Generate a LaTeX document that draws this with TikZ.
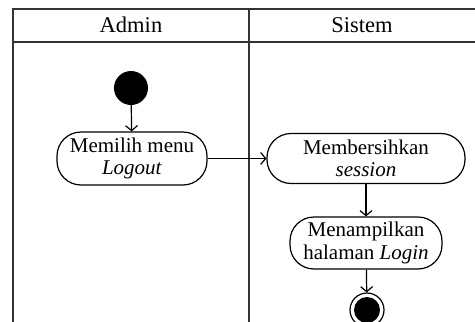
\documentclass[tikz,border=0pt]{standalone}
\usepackage{fontspec}
\setmainfont{Liberation Serif}
\usetikzlibrary{arrows.meta}
\begin{document}
\begin{tikzpicture}[x=1pt,y=-1pt,
  act/.style={draw, line width=1.2pt, rounded corners=24pt, align=center,
    font=\fontsize{21}{22.5}\selectfont, inner sep=0pt},
  flow/.style={line width=1.2pt, -{Straight Barb[length=5pt,width=12pt]}},
  lane/.style={line width=2pt, draw=black!80},
  head/.style={font=\fontsize{22.5}{24}\selectfont}]
\useasboundingbox (0,0) rectangle (475,322);
% swimlanes
\draw[lane] (13,322) -- (13,9) -- (475,9);
\draw[lane] (13,42) -- (475,42);
\draw[lane] (249,9) -- (249,322);
\node[head] (hAdmin) at (131,25) {Admin};
\node[head] (hSistem) at (362,25) {Sistem};
% nodes
\node[circle, fill=black, minimum size=34pt, inner sep=0pt] (start) at (131,88) {};
\node[act, minimum width=150pt, minimum height=53pt] (b1) at (132,158.5) {Memilih menu\\\textit{Logout}};
\node[act, minimum width=198pt, minimum height=50pt] (b2) at (366,158.5) {Membersihkan\\\textit{session}};
\node[act, minimum width=152pt, minimum height=52pt] (b3) at (366,243) {Menampilkan\\halaman \textit{Login}};
\node[circle, draw, line width=1.2pt, minimum size=34pt, inner sep=0pt] (end) at (367,310) {};
\fill (end.center) circle (13pt);
% flows
\draw[flow] (start) -- (b1);
\draw[flow] (b1) -- (b2);
\draw[flow] (b2) -- (b3);
\draw[flow] (b3) -- (end);
\end{tikzpicture}
\end{document}
